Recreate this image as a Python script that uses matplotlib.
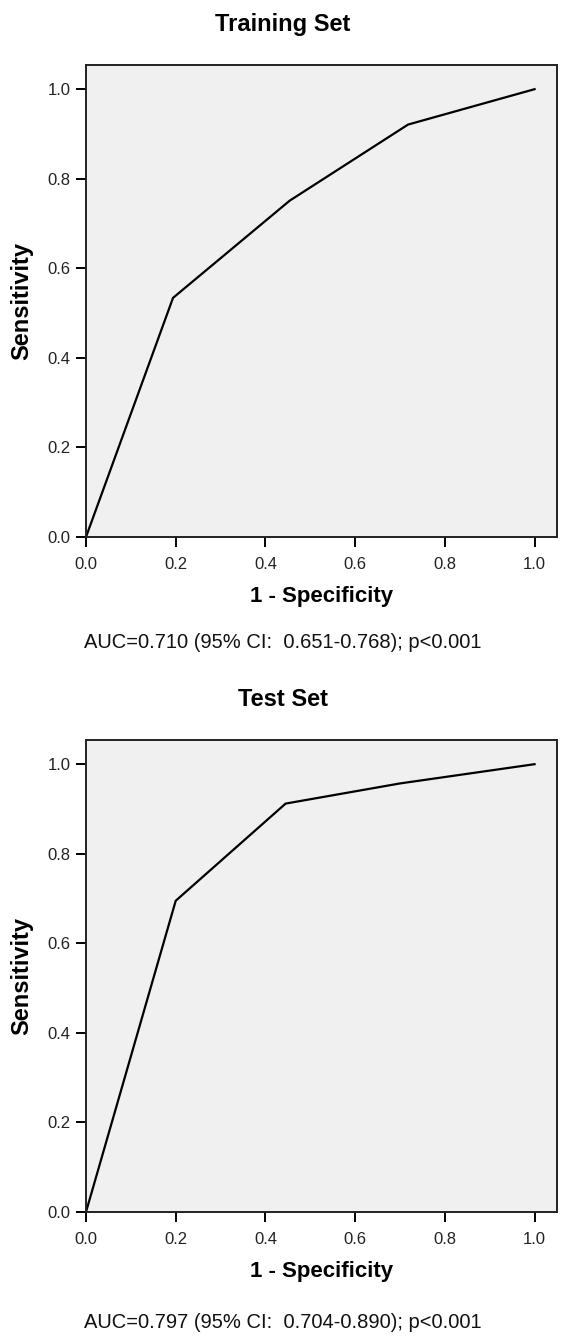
import matplotlib.pyplot as plt
import numpy as np

plt.rcParams['font.family'] = ['Liberation Sans', 'DejaVu Sans']

# ROC points
train_fpr = [0.0, 0.194, 0.454, 0.718, 1.0]
train_tpr = [0.0, 0.534, 0.751, 0.921, 1.0]
test_fpr = [0.0, 0.200, 0.445, 0.700, 1.0]
test_tpr = [0.0, 0.695, 0.912, 0.957, 1.0]

titles = ["Training Set", "Test Set"]
notes = ["AUC=0.710 (95% CI:  0.651-0.768); p<0.001",
         "AUC=0.797 (95% CI:  0.704-0.890); p<0.001"]
ticks = [0.0, 0.2, 0.4, 0.6, 0.8, 1.0]

W, H = 565, 1337
fig = plt.figure(figsize=(W / 100, H / 100), dpi=100)


def px(x, y):
    return x / W, 1 - y / H


panels = [
    # left, top, right, bottom in pixels, title y, note y
    ((86, 65, 557, 537), 24, 642),
    ((86, 740, 557, 1212), 700, 1323),
]
curves = [(train_fpr, train_tpr), (test_fpr, test_tpr)]

for i, ((l, t, r, b), ty, ny) in enumerate(panels):
    ax = fig.add_axes([l / W, 1 - b / H, (r - l) / W, (b - t) / H])
    ax.set_facecolor('#f0f0f0')
    fpr, tpr = curves[i]
    ax.plot(fpr, tpr, color='black', lw=1.6, solid_joinstyle='miter')
    ax.set_xlim(0, 1.05)
    ax.set_ylim(0, 1.054)
    ax.set_xticks(ticks)
    ax.set_yticks(ticks)
    ax.set_xticklabels([f"{v:.1f}" for v in ticks])
    ax.set_yticklabels([f"{v:.1f}" for v in ticks])
    ax.tick_params(axis='both', direction='out', length=7.5, width=1.4,
                   labelsize=12, color='black', labelcolor='#222222')
    ax.tick_params(axis='x', pad=7)
    ax.tick_params(axis='y', pad=3.5)
    for s in ax.spines.values():
        s.set_linewidth(1.4)
        s.set_color('#222222')
    ax.set_xlabel("1 - Specificity", fontsize=16, fontweight='bold', labelpad=10)
    ax.set_ylabel("Sensitivity", fontsize=17, fontweight='bold')
    ax.yaxis.set_label_coords(-0.112, 0.5)

    fig.text(*px(W / 2, ty), titles[i], ha='center', va='center',
             fontsize=17, fontweight='bold')
    fig.text(*px(W / 2, ny), notes[i], ha='center', va='center', fontsize=14.5,
             color='#111111')

fig.savefig('out.png', dpi=100)
